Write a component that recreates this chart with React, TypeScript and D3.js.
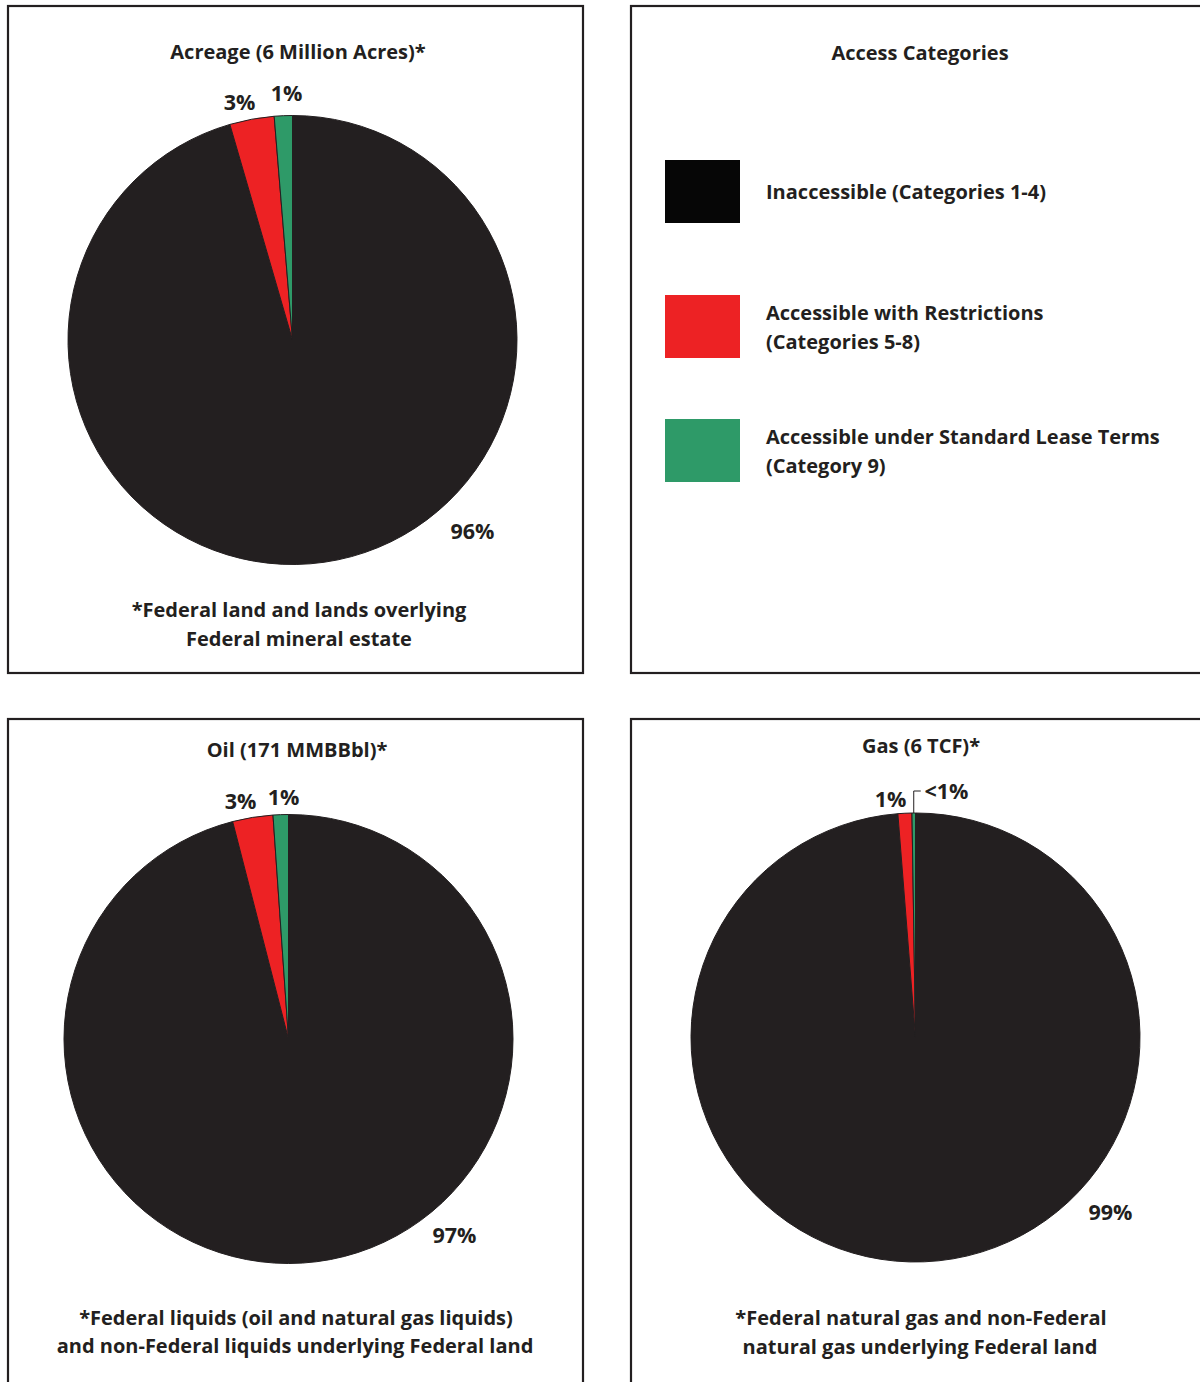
import React from "react";
import * as d3 from "d3";

const categories = ["Inaccessible (Categories 1-4)", "Accessible with Restrictions (Categories 5-8)", "Accessible under Standard Lease Terms (Category 9)"];
const acreageValues = [95.5, 3.2, 1.3];
const acreageLabels = ["96%", "3%", "1%"];
const oilValues = [96.0, 2.9, 1.1];
const oilLabels = ["97%", "3%", "1%"];
const gasValues = [98.75, 1.0, 0.25];
const gasLabels = ["99%", "1%", "<1%"];

const COLORS = ["#231f20", "#ed2224", "#2e9a68"];
const LEGEND_COLORS = ["#060606", "#ed2224", "#2e9a68"];
const FONT = "'Open Sans', sans-serif";
const FS = 20;
const LFS = 21.5;
const R = 224.5;

type PieProps = {
  cx: number; cy: number; values: number[]; labels: string[];
  labelPos: [number, number][]; leader?: boolean;
};

function Pie({ cx, cy, values, labels, labelPos, leader }: PieProps) {
  const pie = d3.pie<number>().sort(null).value((d) => d).startAngle(0).endAngle(2 * Math.PI);
  const arcs = pie(values);
  const arcGen = d3.arc<d3.PieArcDatum<number>>().innerRadius(0).outerRadius(R);
  const last = arcs[arcs.length - 1];
  const mid = (last.startAngle + last.endAngle) / 2;
  return (
    <g transform={`translate(${cx},${cy})`}>
      {arcs.map((a, i) => (
        <path key={i} d={arcGen(a) || ""} fill={COLORS[i]} stroke="#231f20" strokeWidth={1} />
      ))}
      {leader && (
        <polyline
          points={`${R * Math.sin(mid)},${-R * Math.cos(mid)} ${R * Math.sin(mid)},${-R - 22} ${R * Math.sin(mid) + 7},${-R - 22}`}
          fill="none" stroke="#231f20" strokeWidth={1}
        />
      )}
      {labels.map((l, i) => (
        <text key={i} x={labelPos[i][0]} y={labelPos[i][1]} textAnchor="middle" dominantBaseline="central"
          fontFamily={FONT} fontWeight={700} fontSize={LFS} fill="#231f20">{l}</text>
      ))}
    </g>
  );
}

function Txt({ x, y, children, anchor = "middle" }: any) {
  return (
    <text x={x} y={y} textAnchor={anchor} dominantBaseline="central" fontFamily={FONT}
      fontWeight={700} fontSize={FS} fill="#231f20">{children}</text>
  );
}

export default function App() {
  const legendY = [160, 295, 419];
  const legendLines = [
    ["Inaccessible (Categories 1-4)"],
    ["Accessible with Restrictions", "(Categories 5-8)"],
    ["Accessible under Standard Lease Terms", "(Category 9)"],
  ];
  return (
    <svg width={1200} height={1382} style={{ position: "absolute", left: 0, top: 0, background: "#fff" }}>
      <rect x={0} y={0} width={1200} height={1382} fill="#fff" />
      <g fill="none" stroke="#231f20" strokeWidth={2.2}>
        <rect x={8} y={6} width={575} height={667} />
        <rect x={631} y={6} width={700} height={667} />
        <rect x={8} y={719} width={575} height={800} />
        <rect x={631} y={719} width={700} height={800} />
      </g>

      <Txt x={298} y={51}>Acreage (6 Million Acres)*</Txt>
      <Pie cx={292.5} cy={340} values={acreageValues} labels={acreageLabels}
        labelPos={[[180, 190], [-53, -239], [-6, -248]]} />
      <Txt x={299} y={609}>*Federal land and lands overlying</Txt>
      <Txt x={299} y={638}>Federal mineral estate</Txt>

      <Txt x={920} y={52}>Access Categories</Txt>
      {categories.map((c, i) => (
        <g key={c}>
          <rect x={665} y={legendY[i]} width={75} height={63} fill={LEGEND_COLORS[i]} />
          {legendLines[i].length === 1 ? (
            <Txt x={766} y={legendY[i] + 31} anchor="start">{legendLines[i][0]}</Txt>
          ) : (
            <>
              <Txt x={766} y={legendY[i] + 17} anchor="start">{legendLines[i][0]}</Txt>
              <Txt x={766} y={legendY[i] + 46} anchor="start">{legendLines[i][1]}</Txt>
            </>
          )}
        </g>
      ))}

      <Txt x={297} y={749}>Oil (171 MMBBbl)*</Txt>
      <Pie cx={288.5} cy={1039} values={oilValues} labels={oilLabels}
        labelPos={[[166, 195], [-48, -239], [-5, -243]]} />
      <Txt x={296} y={1317}>*Federal liquids (oil and natural gas liquids)</Txt>
      <Txt x={295} y={1345}>and non-Federal liquids underlying Federal land</Txt>

      <Txt x={921} y={745}>Gas (6 TCF)*</Txt>
      <Pie cx={915.5} cy={1037.5} values={gasValues} labels={gasLabels}
        labelPos={[[195, 174], [-25, -239], [31, -247]]} leader />
      <Txt x={921} y={1317}>*Federal natural gas and non-Federal</Txt>
      <Txt x={920} y={1346}>natural gas underlying Federal land</Txt>
    </svg>
  );
}
